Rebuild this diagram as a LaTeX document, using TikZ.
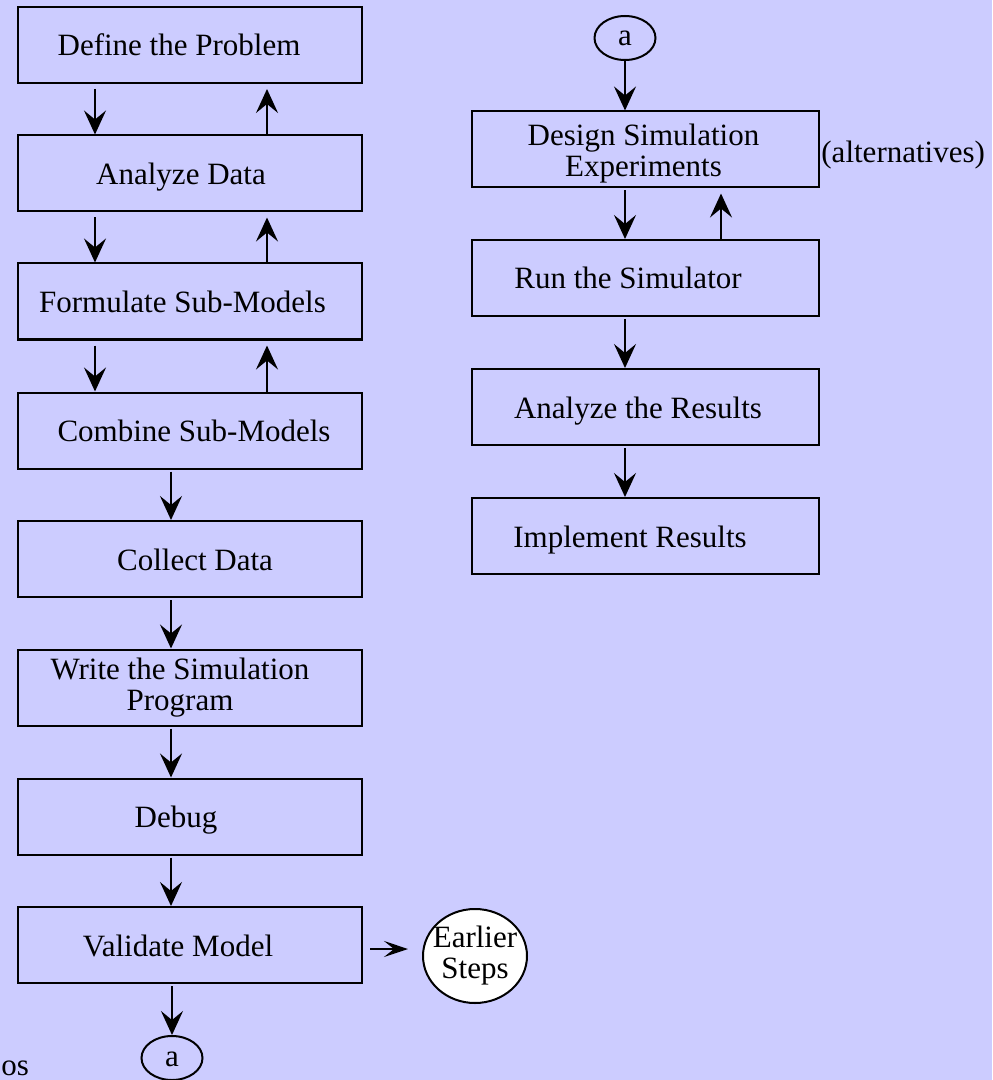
\documentclass[tikz,border=0pt]{standalone}
\usepackage{fontspec}
\setmainfont{Liberation Serif}
\usetikzlibrary{arrows.meta,shapes.geometric}
\definecolor{bgcol}{HTML}{CCCCFF}
\begin{document}
\begin{tikzpicture}[x=0.5pt,y=-0.5pt,
  every node/.style={font=\fontsize{15.5}{15.5}\selectfont},
  box/.style={draw,line width=1pt,rectangle,minimum width=172pt,minimum height=38pt,inner sep=0pt},
  rbox/.style={box,minimum width=173.5pt},
  lbl/.style={text height=11pt,text depth=0pt,inner sep=0pt},
  mlbl/.style={align=center,inner sep=0pt},
  oval/.style={draw,line width=1pt,ellipse,minimum width=30.5pt,minimum height=22pt,inner sep=0pt,text height=8pt,text depth=0pt},
  bigoval/.style={draw,line width=1pt,ellipse,fill=white,minimum width=52pt,minimum height=47pt,inner sep=0pt},
  arr/.style={line width=1pt,-{Stealth[length=12pt,width=11pt,inset=4.5pt]}},
  harr/.style={line width=1pt,-{Stealth[length=12pt,width=8pt,inset=5pt]}},
]
\fill[bgcol] (0,0) rectangle (992,1080);
\useasboundingbox (0,0) rectangle (992,1080);

% left column
\node[box,label={[lbl,xshift=-5.5pt]center:Define the Problem}] (b1) at (190,45) {};
\node[box,label={[lbl,xshift=-4.5pt]center:Analyze Data}] (b2) at (190,173.5) {};
\node[box,label={[lbl,xshift=-3.75pt]center:Formulate Sub-Models}] (b3) at (190,301.5) {};
\node[box,label={[lbl,xshift=2pt]center:Combine Sub-Models}] (b4) at (190,430.5) {};
\node[box,label={[lbl,xshift=2.5pt]center:Collect Data}] (b5) at (190,559) {};
\node[box,label={[mlbl,xshift=-5pt]center:{Write the Simulation\\Program}}] (b6) at (190,687.5) {};
\node[box,label={[lbl,xshift=-7pt]center:Debug}] (b7) at (190,816.5) {};
\node[box,label={[lbl,xshift=-6pt]center:Validate Model}] (b8) at (190,945) {};
\node[oval] (a2) at (172,1058) {a};
\node[bigoval,label={[mlbl]center:{Earlier\\Steps}}] (es) at (475,956) {};
\node[anchor=base west,inner sep=0pt] (os) at (1,1075) {os};

% right column
\node[oval] (a1) at (625,38) {a};
\node[rbox,label={[mlbl,xshift=-1pt,yshift=-2pt]center:{Design Simulation\\Experiments}}] (r1) at (645.5,149.5) {};
\node[rbox,label={[lbl,xshift=-8.75pt]center:Run the Simulator}] (r2) at (645.5,278) {};
\node[rbox,label={[lbl,xshift=-3.75pt]center:Analyze the Results}] (r3) at (645.5,407) {};
\node[rbox,label={[lbl,xshift=-7.75pt]center:Implement Results}] (r4) at (645.5,536) {};
\node[lbl,anchor=west] (alt) at (821,152) {(alternatives)};

% left connectors
\foreach \u/\l in {b1/b2,b2/b3,b3/b4}{
  \draw[arr] ([xshift=-47.5pt,yshift=-2.5pt]\u.south) -- ([xshift=-47.5pt]\l.north);
  \draw[arr] ([xshift=38.5pt]\l.north) -- ([xshift=38.5pt,yshift=-2.5pt]\u.south);
}
\foreach \u/\l in {b4/b5,b5/b6,b6/b7,b7/b8}{
  \draw[arr] ([xshift=-9.5pt,yshift=-1pt]\u.south) -- ([xshift=-9.5pt]\l.north);
}
\draw[arr] ([yshift=-1pt]b8.south -| a2.north) -- (a2.north);
\draw[harr] ([xshift=3.5pt,yshift=-2pt]b8.east) -- ([xshift=-7pt,yshift=3.5pt]es.west);

% right connectors
\draw[arr] (a1.south) -- (a1.south |- r1.north);
\draw[arr] ([xshift=-10.25pt,yshift=-1pt]r1.south) -- ([xshift=-10.25pt]r2.north);
\draw[arr] ([xshift=37.75pt]r2.north) -- ([xshift=37.75pt,yshift=-2.5pt]r1.south);
\draw[arr] ([xshift=-10.25pt,yshift=-1pt]r2.south) -- ([xshift=-10.25pt]r3.north);
\draw[arr] ([xshift=-10.25pt,yshift=-1pt]r3.south) -- ([xshift=-10.25pt]r4.north);
\end{tikzpicture}
\end{document}
